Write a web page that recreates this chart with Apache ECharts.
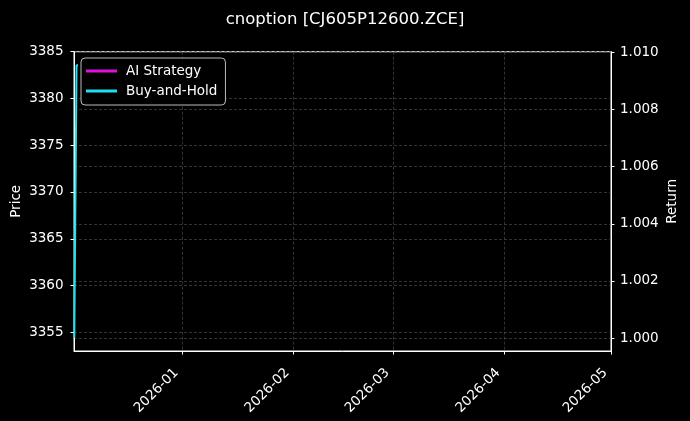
<!DOCTYPE html>
<html>
<head>
<meta charset="utf-8">
<script src="https://cdn.jsdelivr.net/npm/echarts@6/dist/echarts.min.js"></script>
<style>
html,body{margin:0;padding:0;background:#000;}
#c{width:690px;height:421px;}
</style>
</head>
<body>
<div id="c"></div>
<script>
// ---- data ----
const titleText = 'cnoption [CJ605P12600.ZCE]';
const seriesNames = ['AI Strategy', 'Buy-and-Hold'];
const bhDates = ['2025-12-01T20:00:00', '2025-12-02T11:00:00', '2025-12-02T21:00:00'];
const bhPrices = [3354.45, 3383.55, 3383.55];
const aiDates = [];
const aiReturns = [];
const xTickLabels = ['2026-01-01', '2026-02-01', '2026-03-01', '2026-04-01', '2026-05-01'];
const priceTicks = [3355, 3360, 3365, 3370, 3375, 3380, 3385];
const returnTicks = [1.000, 1.002, 1.004, 1.006, 1.008, 1.010];
const xRange = ['2025-12-01T18:00:00', '2026-05-01T00:00:00'];
const priceRange = [3353.0, 3385.0];
const returnRange = [0.99955, 1.01002];

const t = s => new Date(s).getTime();
const fmtMonth = v => {
  const d = new Date(v);
  return d.getFullYear() + '-' + String(d.getMonth() + 1).padStart(2, '0');
};
const FONT = 'DejaVu Sans';
const FS = 13.5;
const chart = echarts.init(document.getElementById('c'));
const gridLine = () => ({show: true, interval: 0, lineStyle: {color: '#555', type: [3, 2], width: 0.6}});
const tick = (vals) => ({show: true, interval: 0, customValues: vals, length: 3.5, inside: false, lineStyle: {color: '#fff', width: 1}});
chart.setOption({
  backgroundColor: '#000',
  animation: false,
  textStyle: {fontFamily: FONT},
  title: {
    text: titleText, left: 'center', top: 6,
    textStyle: {color: '#fff', fontSize: 16.5, fontWeight: 'normal', fontFamily: FONT}
  },
  legend: {
    orient: 'vertical', left: 81, top: 58,
    data: seriesNames,
    icon: 'rect', itemWidth: 31, itemHeight: 3, itemGap: 6,
    padding: [6, 8, 7, 5],
    backgroundColor: 'rgba(0,0,0,0.85)', borderColor: '#bbb', borderWidth: 1, borderRadius: 4,
    textStyle: {color: '#fff', fontSize: FS, fontFamily: FONT, padding: [0, 0, 0, 4]}
  },
  grid: {left: 74, right: 79, top: 51.7, bottom: 70, outerBoundsMode: 'none', containLabel: false,
    show: true, borderColor: '#fff', borderWidth: 1, backgroundColor: 'transparent'},
  xAxis: {
    type: 'value', min: t(xRange[0]), max: t(xRange[1]),
    axisLine: {show: true, lineStyle: {color: '#fff', width: 1}},
    axisTick: tick(xTickLabels.map(t)),
    splitLine: gridLine(),
    axisLabel: {
      customValues: xTickLabels.map(t), interval: 0, rotate: 45, color: '#fff', fontSize: FS, fontFamily: FONT,
      margin: 14, padding: [0, 8, 0, 0], formatter: fmtMonth
    }
  },
  yAxis: [
    {
      type: 'value', position: 'left', min: priceRange[0], max: priceRange[1],
      name: 'Price', nameLocation: 'middle', nameGap: 51, nameRotate: 90, nameMoveOverlap: false,
      nameTextStyle: {color: '#fff', fontSize: FS, fontFamily: FONT},
      axisLine: {show: true, lineStyle: {color: '#fff', width: 1}},
      axisTick: tick(priceTicks),
      splitLine: gridLine(),
      axisLabel: {customValues: priceTicks, interval: 0, color: '#fff', fontSize: FS, fontFamily: FONT, margin: 10.5,
        formatter: v => String(v)}
    },
    {
      type: 'value', position: 'right', min: returnRange[0], max: returnRange[1],
      name: 'Return', nameLocation: 'middle', nameGap: 54, nameRotate: 90, nameMoveOverlap: false,
      nameTextStyle: {color: '#fff', fontSize: FS, fontFamily: FONT},
      axisLine: {show: true, lineStyle: {color: '#fff', width: 1}},
      axisTick: tick(returnTicks),
      splitLine: gridLine(),
      axisLabel: {customValues: returnTicks, interval: 0, color: '#fff', fontSize: FS, fontFamily: FONT, margin: 9,
        formatter: v => v.toFixed(3)}
    }
  ],
  series: [
    {
      name: seriesNames[0], type: 'line', yAxisIndex: 1, showSymbol: false,
      color: '#e010e0', lineStyle: {width: 2, color: '#e010e0'},
      data: aiDates.map((d, i) => [t(d), aiReturns[i]])
    },
    {
      name: seriesNames[1], type: 'line', yAxisIndex: 0, showSymbol: false,
      color: '#1ee0ee', lineStyle: {width: 2, color: '#1ee0ee'},
      data: bhDates.map((d, i) => [t(d), bhPrices[i]])
    }
  ]
});
</script>
</body>
</html>
